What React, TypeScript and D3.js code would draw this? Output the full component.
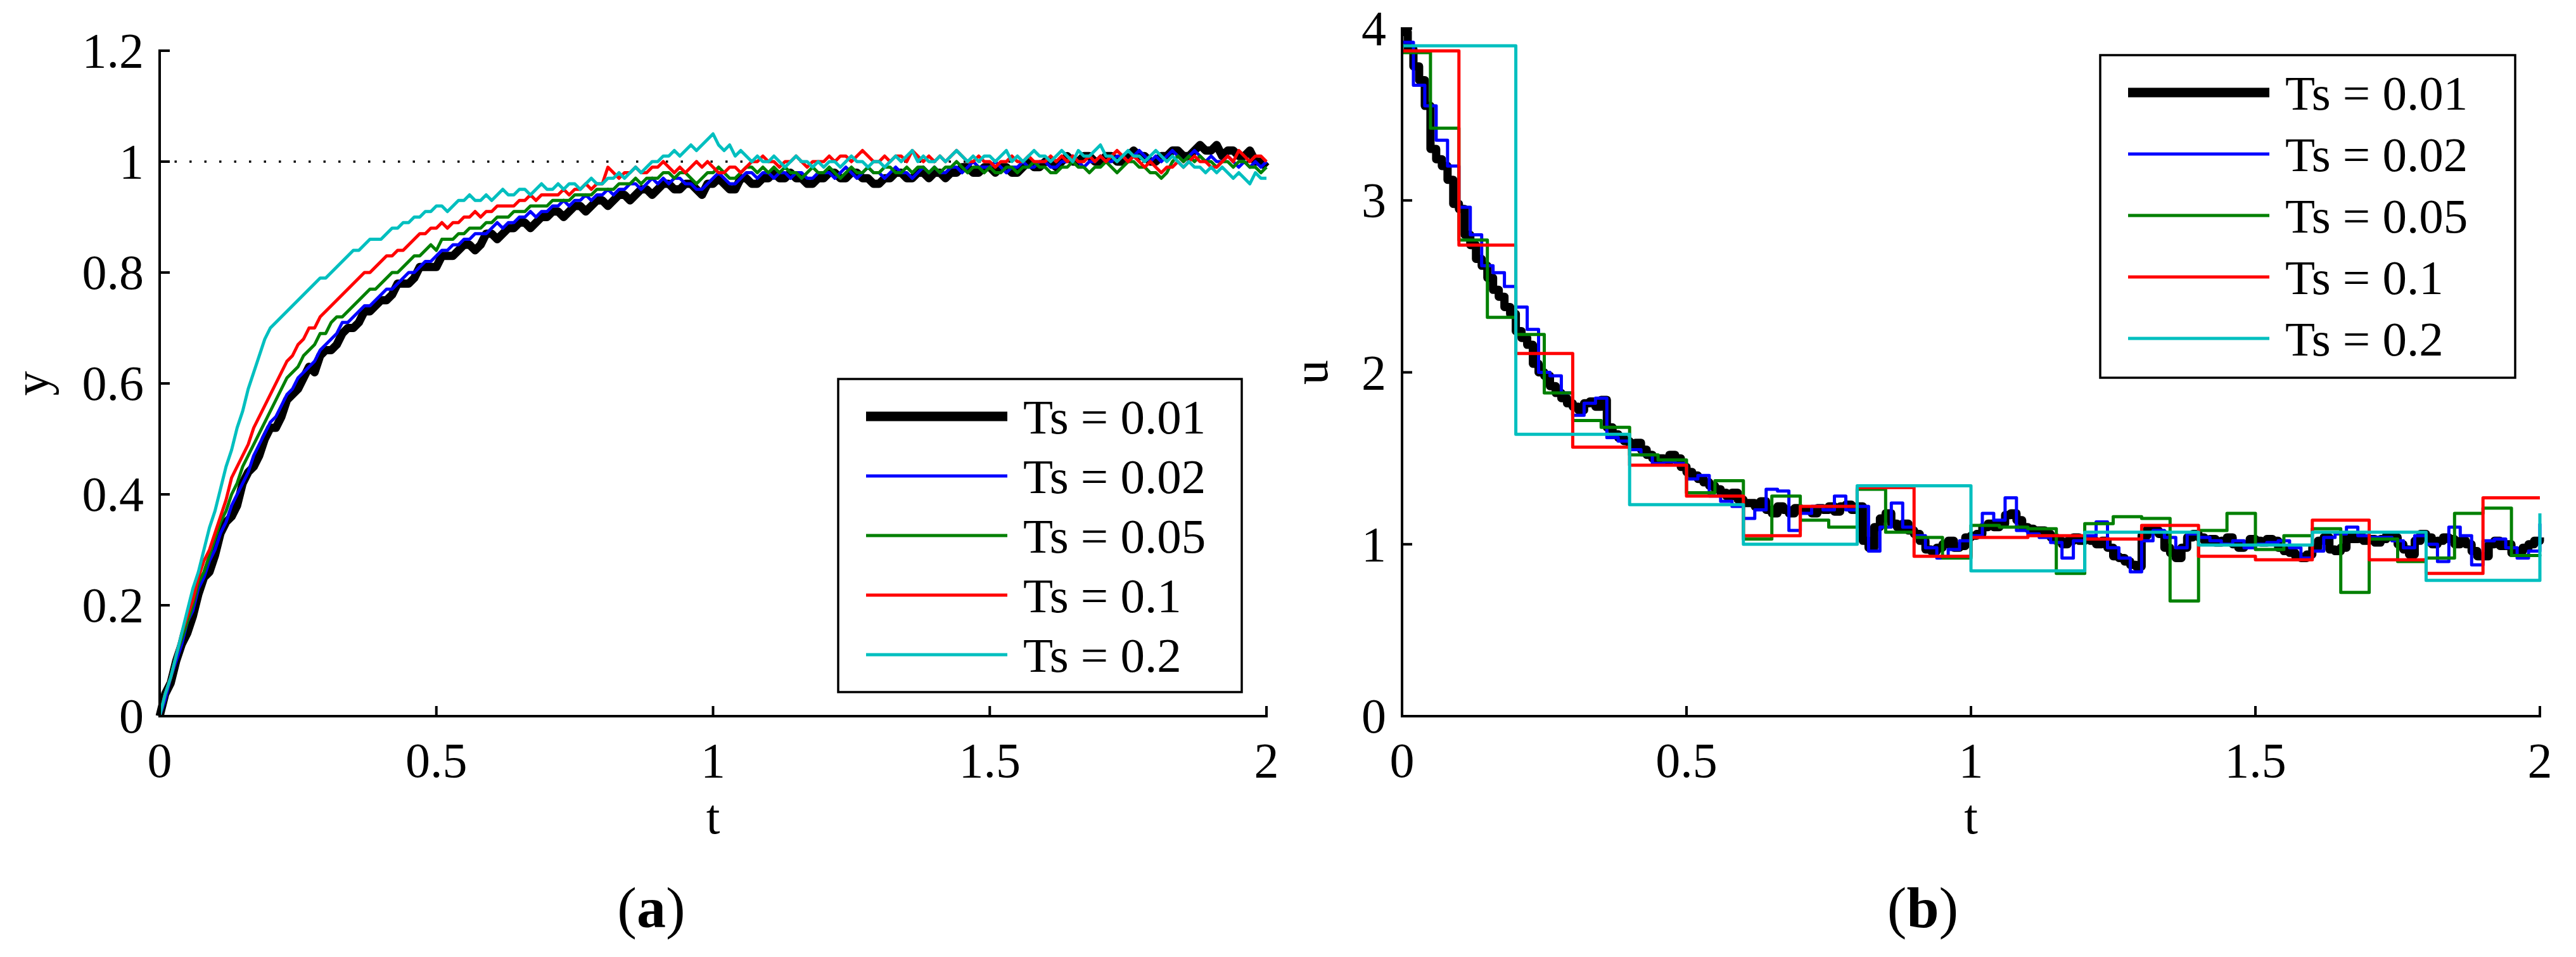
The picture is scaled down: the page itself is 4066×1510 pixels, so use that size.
import React from 'react';
import * as d3 from 'd3';

const W = 4066;
const H = 1510;
const FONT = "'Liberation Serif', 'Times New Roman', Times, 'DejaVu Serif', serif";

// legend entries, shared by both panels
const seriesLabels = ['Ts = 0.01', 'Ts = 0.02', 'Ts = 0.05', 'Ts = 0.1', 'Ts = 0.2'];
const seriesColors = ['#000000', '#0000ff', '#008000', '#ff0000', '#00bfbf'];
const seriesWidths = [13, 5, 5, 5, 5];

const xTicks = [0, 0.5, 1, 1.5, 2];
const yTicksA = [0, 0.2, 0.4, 0.6, 0.8, 1, 1.2];
const uTicksB = [0, 1, 2, 3, 4];

// (a) output y, read every 0.01 s (rows of 0.1 s)
const Y_DT = 0.01;
const yTs001 = [
  0, 0.04, 0.06, 0.10, 0.13, 0.15, 0.18, 0.22, 0.25, 0.26,
  0.29, 0.33, 0.35, 0.36, 0.38, 0.42, 0.44, 0.45, 0.47, 0.50,
  0.52, 0.52, 0.54, 0.57, 0.58, 0.59, 0.61, 0.63, 0.62, 0.65,
  0.66, 0.66, 0.67, 0.69, 0.70, 0.70, 0.71, 0.73, 0.73, 0.74,
  0.75, 0.75, 0.76, 0.78, 0.78, 0.78, 0.79, 0.81, 0.81, 0.81,
  0.81, 0.83, 0.83, 0.83, 0.84, 0.85, 0.85, 0.84, 0.85, 0.87,
  0.87, 0.86, 0.87, 0.88, 0.88, 0.89, 0.89, 0.88, 0.89, 0.90,
  0.90, 0.91, 0.91, 0.90, 0.91, 0.92, 0.92, 0.91, 0.92, 0.93,
  0.93, 0.92, 0.93, 0.94, 0.94, 0.93, 0.94, 0.95, 0.95, 0.94,
  0.95, 0.96, 0.96, 0.95, 0.95, 0.96, 0.96, 0.95, 0.94, 0.96,
  0.96, 0.97, 0.96, 0.95, 0.95, 0.97, 0.97, 0.96, 0.96, 0.97,
  0.97, 0.98, 0.97, 0.97, 0.98, 0.97, 0.97, 0.96, 0.96, 0.97,
  0.97, 0.98, 0.98, 0.97, 0.97, 0.98, 0.98, 0.97, 0.97, 0.96,
  0.96, 0.97, 0.97, 0.98, 0.98, 0.97, 0.97, 0.98, 0.98, 0.97,
  0.98, 0.98, 0.97, 0.98, 0.98, 0.99, 0.99, 0.98, 0.98, 0.99,
  0.99, 0.98, 0.99, 0.99, 0.98, 0.98, 0.99, 1.00, 0.99, 0.99,
  1.00, 1.00, 0.99, 1.00, 1.01, 1.00, 1.00, 1.01, 1.01, 1.00,
  1.00, 1.01, 1.01, 1.00, 1.00, 1.01, 1.02, 1.01, 1.01, 1.00,
  1.00, 1.01, 1.01, 1.02, 1.02, 1.01, 1.01, 1.02, 1.03, 1.02,
  1.02, 1.03, 1.01, 1.02, 1.02, 1.01, 1.01, 1.02, 1.00, 1.00,
  0.99,
];
const yTs002 = [
  0, 0.03, 0.07, 0.10, 0.13, 0.17, 0.19, 0.23, 0.25, 0.28,
  0.30, 0.33, 0.35, 0.38, 0.40, 0.42, 0.44, 0.47, 0.49, 0.51,
  0.53, 0.54, 0.56, 0.58, 0.59, 0.61, 0.62, 0.63, 0.64, 0.66,
  0.67, 0.68, 0.69, 0.71, 0.71, 0.72, 0.73, 0.74, 0.74, 0.75,
  0.76, 0.77, 0.77, 0.78, 0.79, 0.80, 0.80, 0.81, 0.82, 0.82,
  0.83, 0.84, 0.84, 0.85, 0.85, 0.86, 0.86, 0.87, 0.87, 0.87,
  0.88, 0.89, 0.88, 0.89, 0.89, 0.90, 0.90, 0.91, 0.90, 0.91,
  0.91, 0.92, 0.92, 0.93, 0.92, 0.93, 0.93, 0.94, 0.93, 0.94,
  0.94, 0.95, 0.94, 0.95, 0.95, 0.96, 0.96, 0.95, 0.96, 0.97,
  0.96, 0.97, 0.96, 0.97, 0.97, 0.96, 0.96, 0.95, 0.95, 0.96,
  0.97, 0.98, 0.97, 0.96, 0.96, 0.97, 0.98, 0.98, 0.97, 0.98,
  0.98, 0.97, 0.98, 0.98, 0.97, 0.98, 0.98, 0.97, 0.97, 0.98,
  0.98, 0.98, 0.97, 0.98, 0.99, 0.98, 0.97, 0.98, 0.99, 0.98,
  0.98, 0.97, 0.98, 0.99, 0.98, 0.98, 0.97, 0.98, 0.99, 0.98,
  0.99, 0.98, 0.98, 0.99, 0.99, 0.98, 0.99, 1.00, 0.99, 0.99,
  0.99, 1.00, 0.99, 0.98, 0.99, 0.99, 1.00, 0.99, 0.99, 1.00,
  1.00, 0.99, 0.99, 1.00, 1.00, 1.01, 1.00, 0.99, 1.00, 1.00,
  1.01, 1.00, 1.00, 1.01, 1.01, 1.00, 1.01, 1.02, 1.01, 1.00,
  1.01, 1.00, 1.01, 1.02, 1.01, 1.00, 1.01, 1.02, 1.01, 1.00,
  1.01, 1.00, 1.00, 1.01, 1.00, 0.99, 1.00, 0.99, 1.00, 0.99,
  1.00,
];
const yTs005 = [
  0, 0.04, 0.07, 0.11, 0.14, 0.17, 0.20, 0.24, 0.26, 0.29,
  0.32, 0.35, 0.37, 0.40, 0.42, 0.45, 0.47, 0.49, 0.51, 0.53,
  0.55, 0.57, 0.59, 0.61, 0.62, 0.63, 0.65, 0.66, 0.67, 0.69,
  0.69, 0.71, 0.72, 0.72, 0.73, 0.74, 0.75, 0.76, 0.77, 0.77,
  0.78, 0.79, 0.80, 0.80, 0.81, 0.82, 0.83, 0.83, 0.84, 0.85,
  0.84, 0.86, 0.86, 0.86, 0.87, 0.87, 0.88, 0.88, 0.88, 0.89,
  0.89, 0.90, 0.90, 0.90, 0.91, 0.91, 0.91, 0.92, 0.92, 0.92,
  0.92, 0.93, 0.93, 0.93, 0.93, 0.94, 0.94, 0.94, 0.94, 0.95,
  0.95, 0.95, 0.95, 0.96, 0.96, 0.96, 0.97, 0.96, 0.97, 0.97,
  0.97, 0.98, 0.98, 0.97, 0.98, 0.98, 0.97, 0.96, 0.97, 0.98,
  0.98, 0.99, 0.98, 0.97, 0.97, 0.98, 0.99, 0.99, 0.98, 0.99,
  0.98, 0.99, 0.98, 0.99, 0.98, 0.98, 0.97, 0.98, 0.99, 0.98,
  0.98, 0.99, 0.98, 0.97, 0.98, 0.99, 0.98, 0.98, 0.99, 0.98,
  0.98, 0.99, 0.99, 0.98, 0.98, 0.99, 0.98, 0.99, 0.99, 0.98,
  0.99, 0.98, 0.99, 0.99, 1.00, 0.99, 0.98, 0.99, 0.99, 0.98,
  0.99, 0.98, 0.98, 0.99, 0.99, 0.98, 0.99, 0.99, 1.00, 0.99,
  0.99, 0.98, 0.98, 0.99, 0.99, 1.00, 0.99, 0.99, 0.98, 0.99,
  0.99, 1.00, 0.99, 0.98, 0.99, 1.00, 1.00, 0.99, 0.99, 0.98,
  0.98, 0.97, 0.98, 1.00, 1.01, 1.00, 1.01, 1.00, 1.01, 1.00,
  1.00, 0.99, 1.00, 1.00, 0.99, 1.00, 1.00, 0.99, 0.99, 0.98,
  0.99,
];
const yTs01 = [
  0, 0.04, 0.07, 0.11, 0.15, 0.18, 0.21, 0.25, 0.28, 0.30,
  0.33, 0.36, 0.39, 0.43, 0.45, 0.47, 0.49, 0.52, 0.54, 0.56,
  0.58, 0.60, 0.62, 0.64, 0.65, 0.67, 0.68, 0.70, 0.70, 0.72,
  0.73, 0.74, 0.75, 0.76, 0.77, 0.78, 0.79, 0.80, 0.80, 0.81,
  0.82, 0.83, 0.83, 0.84, 0.84, 0.85, 0.86, 0.87, 0.87, 0.88,
  0.88, 0.89, 0.88, 0.89, 0.89, 0.90, 0.90, 0.91, 0.90, 0.91,
  0.91, 0.92, 0.92, 0.92, 0.92, 0.93, 0.93, 0.94, 0.93, 0.94,
  0.94, 0.94, 0.94, 0.95, 0.94, 0.95, 0.95, 0.96, 0.95, 0.96,
  0.96, 0.99, 0.98, 0.97, 0.98, 0.98, 0.99, 0.98, 0.98, 0.99,
  0.99, 1.00, 0.99, 0.98, 0.99, 0.98, 0.99, 1.00, 0.99, 1.00,
  0.99, 0.98, 0.98, 0.99, 0.99, 0.98, 0.99, 1.00, 1.00, 1.01,
  1.00, 1.00, 0.99, 1.00, 1.00, 1.01, 1.00, 0.99, 1.00, 1.00,
  1.00, 1.01, 1.00, 1.01, 1.01, 1.00, 1.01, 1.02, 1.01, 1.00,
  1.00, 1.01, 1.00, 1.01, 1.01, 1.00, 1.02, 1.01, 1.00, 1.01,
  1.00, 1.01, 1.00, 1.01, 1.02, 1.01, 1.00, 1.00, 1.01, 1.00,
  1.00, 0.99, 1.00, 1.00, 1.01, 1.00, 1.00, 1.01, 1.00, 1.00,
  1.00, 1.01, 1.00, 1.01, 1.00, 1.01, 1.00, 1.00, 1.01, 1.00,
  1.01, 1.00, 1.01, 1.02, 1.01, 1.00, 1.01, 1.00, 0.99, 1.00,
  0.99, 0.98, 0.99, 0.99, 1.00, 0.99, 1.00, 1.01, 1.00, 1.00,
  0.99, 0.99, 1.00, 1.01, 1.00, 1.02, 1.01, 1.00, 1.01, 1.01,
  1.00,
];
const yTs02 = [
  0, 0.04, 0.07, 0.11, 0.15, 0.19, 0.23, 0.26, 0.30, 0.34,
  0.37, 0.41, 0.45, 0.48, 0.52, 0.55, 0.59, 0.62, 0.65, 0.68,
  0.70, 0.71, 0.72, 0.73, 0.74, 0.75, 0.76, 0.77, 0.78, 0.79,
  0.79, 0.80, 0.81, 0.82, 0.83, 0.84, 0.84, 0.85, 0.86, 0.86,
  0.86, 0.87, 0.88, 0.88, 0.89, 0.89, 0.90, 0.90, 0.91, 0.91,
  0.92, 0.92, 0.91, 0.92, 0.93, 0.93, 0.94, 0.93, 0.93, 0.94,
  0.93, 0.94, 0.95, 0.94, 0.94, 0.95, 0.95, 0.94, 0.95, 0.96,
  0.95, 0.95, 0.96, 0.95, 0.96, 0.96, 0.95, 0.96, 0.97, 0.96,
  0.96, 0.97, 0.97, 0.98, 0.97, 0.98, 0.99, 0.98, 0.99, 1.00,
  1.00, 1.01, 1.01, 1.02, 1.01, 1.02, 1.03, 1.02, 1.03, 1.04,
  1.05, 1.03, 1.02, 1.03, 1.01, 1.02, 1.01, 1.00, 1.01, 1.00,
  1.00, 1.01, 1.00, 0.99, 1.00, 1.01, 1.00, 1.00, 0.99, 1.00,
  0.99, 1.00, 1.00, 0.99, 1.00, 1.01, 1.00, 1.00, 0.99, 1.00,
  1.00, 0.99, 1.00, 1.01, 1.00, 1.01, 1.02, 1.00, 1.01, 1.00,
  1.00, 1.01, 1.00, 1.01, 1.02, 1.01, 1.00, 1.01, 1.00, 1.01,
  1.01, 1.00, 1.01, 1.02, 1.00, 1.01, 1.00, 1.01, 1.02, 1.01,
  1.01, 1.00, 1.01, 1.02, 1.01, 1.00, 1.02, 1.01, 1.01, 1.02,
  1.03, 1.01, 1.01, 1.00, 1.01, 1.02, 1.01, 1.01, 1.00, 1.01,
  1.02, 1.01, 1.00, 1.01, 1.00, 0.99, 1.00, 0.99, 0.99, 0.98,
  0.99, 0.98, 0.99, 0.98, 0.97, 0.98, 0.97, 0.96, 0.98, 0.97,
  0.97,
];

// (b) control u, one value per sample period (stairs)
const uPeriods = [0.01, 0.02, 0.05, 0.1, 0.2];
const uTs001 = [
  3.98,
  3.88, 3.78, 3.70, 3.55, 3.30, 3.24, 3.20, 3.12, 2.98, 2.95,
  2.80, 2.74, 2.66, 2.62, 2.55, 2.48, 2.44, 2.38, 2.34, 2.24,
  2.20, 2.16, 2.05, 2.00, 1.98, 1.92, 1.88, 1.85, 1.82, 1.80,
  1.78, 1.82, 1.83, 1.80, 1.84, 1.68, 1.64, 1.62, 1.60, 1.58,
  1.59, 1.55, 1.52, 1.50, 1.50, 1.48, 1.52, 1.50, 1.45, 1.42,
  1.40, 1.38, 1.36, 1.34, 1.32, 1.30, 1.28, 1.30, 1.26, 1.24,
  1.24, 1.22, 1.25, 1.20, 1.18, 1.22, 1.20, 1.18, 1.21, 1.20,
  1.20, 1.18, 1.21, 1.20, 1.22, 1.19, 1.22, 1.23, 1.20, 1.22,
  1.02, 0.98, 1.10, 1.15, 1.18, 1.12, 1.10, 1.12, 1.08, 1.06,
  1.02, 0.97, 0.96, 0.98, 1.00, 1.02, 0.98, 0.99, 1.04, 1.05,
  1.06, 1.10, 1.12, 1.10, 1.12, 1.17, 1.18, 1.14, 1.10, 1.09,
  1.08, 1.08, 1.06, 1.04, 1.02, 1.00, 1.02, 1.04, 1.02, 1.03,
  1.02, 1.00, 1.02, 0.98, 0.93, 0.92, 0.90, 0.88, 0.87, 1.05,
  1.09, 1.08, 1.06, 0.98, 0.95, 0.92, 0.98, 1.04, 1.06, 1.04,
  1.02, 1.03, 1.01, 1.02, 1.04, 1.00, 0.98, 1.00, 1.03, 1.02,
  1.01, 1.03, 1.02, 0.98, 0.96, 0.95, 0.93, 0.92, 0.94, 0.98,
  1.02, 1.04, 0.97, 0.96, 0.98, 1.05, 1.03, 1.04, 1.02, 1.03,
  1.01, 1.03, 1.05, 1.04, 1.00, 0.97, 0.94, 1.02, 1.06, 1.04,
  1.00, 1.02, 1.04, 1.03, 1.00, 1.02, 1.00, 0.96, 0.93, 0.93,
  1.00, 1.02, 0.99, 1.00, 0.95, 0.96, 0.98, 1.00, 1.02, 1.04,
];
const uTs002 = [
  3.92, 3.67, 3.55, 3.35, 3.20, 2.96, 2.80, 2.62, 2.58, 2.50,
  2.38, 2.25, 2.00, 1.98, 1.88, 1.75, 1.82, 1.85, 1.62, 1.60,
  1.55, 1.52, 1.47, 1.48, 1.47, 1.38, 1.40, 1.28, 1.25, 1.22,
  1.15, 1.20, 1.32, 1.31, 1.08, 1.18, 1.22, 1.20, 1.28, 1.20,
  1.22, 0.96, 1.10, 1.24, 1.10, 1.05, 0.98, 0.92, 0.97, 1.02,
  1.05, 1.18, 1.14, 1.27, 1.08, 1.06, 1.04, 1.01, 0.92, 1.02,
  1.05, 1.13, 0.98, 0.92, 0.84, 1.02, 1.08, 1.04, 0.98, 1.06,
  1.04, 1.02, 1.00, 1.02, 0.98, 1.00, 1.01, 1.02, 0.98, 0.92,
  0.96, 1.04, 1.06, 1.10, 1.05, 1.04, 1.04, 1.02, 0.98, 1.05,
  1.00, 0.90, 1.10, 1.05, 0.88, 1.02, 1.03, 0.98, 0.92, 0.96,
  1.12,
];
const uTs005 = [
  3.86, 3.42, 2.77, 2.32, 2.22, 1.88, 1.72, 1.68, 1.52, 1.49,
  1.30, 1.37, 1.03, 1.28, 1.14, 1.10, 1.32, 1.07, 1.04, 0.92,
  1.11, 1.10, 1.09, 0.83, 1.12, 1.16, 1.15, 0.67, 1.08, 1.18,
  0.97, 1.05, 1.09, 0.72, 1.03, 0.90, 0.92, 1.18, 1.21, 0.935,
  0.94,
];
const uTs01 = [
  3.87, 2.74, 2.11, 1.565, 1.46, 1.28, 1.05, 1.22, 1.33, 0.93,
  1.04, 1.05, 1.03, 1.11, 0.93, 0.91, 1.14, 0.91, 0.83, 1.27,
  1.27,
];
const uTs02 = [3.90, 1.64, 1.23, 1.00, 1.34, 0.845, 1.07, 0.995, 1.07, 0.79, 1.18];

const ySeries = [yTs001, yTs002, yTs005, yTs01, yTs02];
const uSeries = [uTs001, uTs002, uTs005, uTs01, uTs02];

type Box = { left: number; right: number; top: number; bottom: number };
type Pt = [number, number];

interface PanelProps {
  box: Box;
  yMax: number;
  yTicks: number[];
  series: Pt[][];
  stairs: boolean;
  yLabel: string;
  yLabelX: number;
  legend: { left: number; top: number; width: number; height: number; rowGap: number };
  caption: string;
  captionX: number;
  refLine?: number;
}

function Panel({ box, yMax, yTicks, series, stairs, yLabel, yLabelX, legend, caption, captionX, refLine }: PanelProps) {
  const x = d3.scaleLinear().domain([0, 2]).range([box.left, box.right]);
  const y = d3.scaleLinear().domain([0, yMax]).range([box.bottom, box.top]);
  const line = d3.line<Pt>()
    .x(d => x(d[0]))
    .y(d => y(d[1]))
    .curve(stairs ? d3.curveStepAfter : d3.curveLinear);
  const fmt = d3.format('~g');
  const tick = 16;
  const cx = (box.left + box.right) / 2;
  const txt = { fontFamily: FONT };

  return (
    <g>
      {refLine !== undefined && (
        <line x1={x(0)} x2={x(2)} y1={y(refLine)} y2={y(refLine)}
          stroke="#000" strokeWidth={3.5} strokeDasharray="3.5,20" />
      )}
      {series.map((pts, i) => (
        <path key={i} d={line(pts) || ''} fill="none" stroke={seriesColors[i]}
          strokeWidth={seriesWidths[i]} strokeLinejoin="round" />
      ))}

      {/* axes */}
      <line x1={box.left} x2={box.left} y1={box.top - 2} y2={box.bottom + 2} stroke="#000" strokeWidth={4} />
      <line x1={box.left - 2} x2={box.right + 2} y1={box.bottom} y2={box.bottom} stroke="#000" strokeWidth={4} />
      {yTicks.map(v => (
        <g key={'y' + v}>
          <line x1={box.left} x2={box.left + tick} y1={y(v)} y2={y(v)} stroke="#000" strokeWidth={4} />
          <text style={txt} x={box.left - 25} y={y(v) + 26} textAnchor="end" fontSize={78}>{fmt(v)}</text>
        </g>
      ))}
      {xTicks.map(v => (
        <g key={'x' + v}>
          <line x1={x(v)} x2={x(v)} y1={box.bottom} y2={box.bottom - tick} stroke="#000" strokeWidth={4} />
          <text style={txt} x={x(v)} y={box.bottom + 96} textAnchor="middle" fontSize={78}>{fmt(v)}</text>
        </g>
      ))}
      <text style={txt} x={cx} y={box.bottom + 185} textAnchor="middle" fontSize={78}>t</text>
      <text style={txt} transform={`translate(${yLabelX},${(box.top + box.bottom) / 2}) rotate(-90)`}
        textAnchor="middle" fontSize={78}>{yLabel}</text>

      {/* legend */}
      <rect x={legend.left} y={legend.top} width={legend.width} height={legend.height}
        fill="#fff" stroke="#000" strokeWidth={3.5} />
      {seriesLabels.map((lab, i) => {
        const ry = legend.top + 59 + i * legend.rowGap;
        return (
          <g key={lab}>
            <line x1={legend.left + 44} x2={legend.left + 267} y1={ry} y2={ry}
              stroke={seriesColors[i]} strokeWidth={i === 0 ? 15 : 5} />
            <text style={txt} x={legend.left + 292} y={ry + 27} fontSize={77}>{lab}</text>
          </g>
        );
      })}

      <text style={txt} x={captionX} y={1463} textAnchor="middle" fontSize={92}>
        (<tspan fontWeight="bold">{caption}</tspan>)
      </text>
    </g>
  );
}

export default function App() {
  const yPts: Pt[][] = ySeries.map(s => s.map((v, i) => [i * Y_DT, v] as Pt));
  const uPts: Pt[][] = uSeries.map((s, k) => s.map((v, i) => [i * uPeriods[k], v] as Pt));

  return (
    <svg width={W} height={H} viewBox={`0 0 ${W} ${H}`}
      style={{ position: 'absolute', left: 0, top: 0, background: '#fff', fontFamily: FONT }}>
      <rect width={W} height={H} fill="#fff" />
      <Panel
        box={{ left: 252, right: 1999, top: 80, bottom: 1130 }}
        yMax={1.2}
        yTicks={yTicksA}
        series={yPts}
        stairs={false}
        yLabel="y"
        yLabelX={76}
        legend={{ left: 1323, top: 598, width: 637, height: 494, rowGap: 94 }}
        caption="a"
        captionX={1028}
        refLine={1}
      />
      <Panel
        box={{ left: 2213, right: 4009, top: 45, bottom: 1130 }}
        yMax={4}
        yTicks={uTicksB}
        series={uPts}
        stairs={true}
        yLabel="u"
        yLabelX={2095}
        legend={{ left: 3315, top: 87, width: 655, height: 509, rowGap: 97 }}
        caption="b"
        captionX={3035}
      />
    </svg>
  );
}
